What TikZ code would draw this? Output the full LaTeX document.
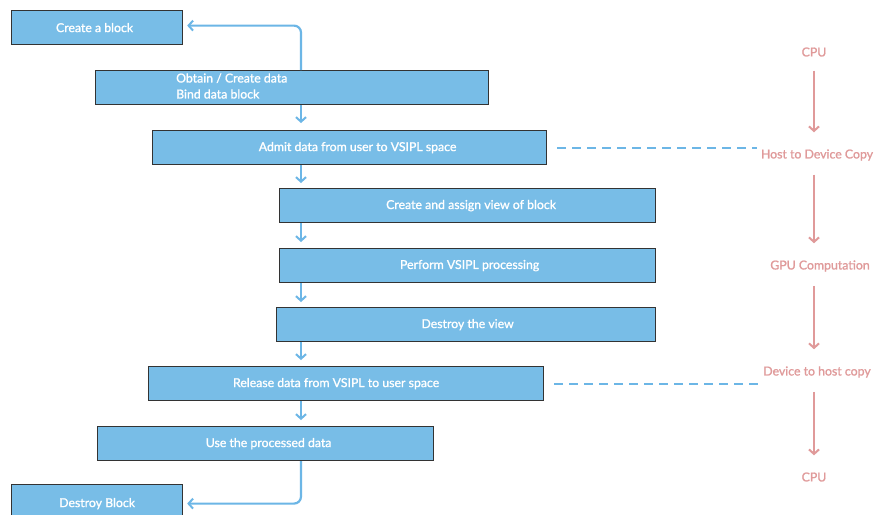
\documentclass[tikz,border=0pt]{standalone}
\usepackage{fontspec}
\setmainfont{Lato}[FakeBold=1.2]
\usetikzlibrary{arrows.meta,backgrounds}
\definecolor{boxblue}{HTML}{78BDE7}
\definecolor{lineblue}{HTML}{6CB6E6}
\definecolor{pinkc}{HTML}{E09A9A}
\definecolor{edgec}{HTML}{333333}
\tikzset{
  box/.style={draw=edgec, line width=1.2pt, fill=boxblue, text=white,
    font=\fontsize{12.3}{14}\selectfont, inner sep=0pt, anchor=north west},
  boxtext/.style={text=white, font=\fontsize{12.3}{16}\selectfont, inner sep=0pt, align=left},
  conn/.style={draw=lineblue, line width=2.2pt, -{Straight Barb[length=4.5pt,width=10pt,line width=2pt]}},
  dashline/.style={draw=lineblue, line width=2.2pt, dash pattern=on 9pt off 6pt},
  side/.style={text=pinkc, font=\fontsize{12.3}{14}\selectfont, inner sep=0pt},
  sidearrow/.style={draw=pinkc, line width=2.2pt, -{Straight Barb[length=4.5pt,width=10pt,line width=2pt]}, shorten <=14pt, shorten >=17pt},
}
\begin{document}
\begin{tikzpicture}[x=1pt,y=-1pt]
\clip (0,0) rectangle (883,514);
\fill[white] (0,0) rectangle (883,514);
\coordinate (cx) at (301,0);
\coordinate (lx) at (109,0);
\coordinate (ax) at (814,0);
% boxes
\node[box, minimum width=171pt, minimum height=34pt] (b1) at (11,10) {Create a block\hspace*{5pt}};
\node[box, minimum width=393pt, minimum height=34pt] (b2) at (95,70) {};
\node[boxtext, anchor=west] (b2t) at (176,86) {Obtain / Create data\\Bind data block};
\node[box, minimum width=394pt, minimum height=34pt] (b3) at (152,130) {\hspace*{16pt}Admit data from user to VSIPL space};
\node[box, minimum width=376pt, minimum height=34pt] (b4) at (279,188) {\hspace*{7pt}Create and assign view of block};
\node[box, minimum width=376pt, minimum height=34pt] (b5) at (279,248) {\hspace*{4pt}Perform VSIPL processing};
\node[box, minimum width=379pt, minimum height=34pt] (b6) at (276,307) {\hspace*{3pt}Destroy the view};
\node[box, minimum width=395pt, minimum height=34pt] (b7) at (148,366) {Release data from VSIPL to user space\hspace*{20pt}};
\node[box, minimum width=336pt, minimum height=34pt] (b8) at (97,426) {\hspace*{6pt}Use the processed data};
\node[box, minimum width=171pt, minimum height=38pt] (b9) at (11,484) {Destroy Block};
% flow arrows
\draw[conn, shorten >=7pt] (b2.south -| cx) -- (b3.north -| cx);
\draw[conn, shorten >=5pt] (b3.south -| cx) -- (b4.north -| cx);
\draw[conn, shorten >=6pt] (b4.south -| cx) -- (b5.north -| cx);
\draw[conn, shorten >=5pt] (b5.south -| cx) -- (b6.north -| cx);
\draw[conn, shorten >=6pt] (b6.south -| cx) -- (b7.north -| cx);
\draw[conn, shorten >=6pt] (b7.south -| cx) -- (b8.north -| cx);
\draw[conn, rounded corners=7pt, shorten >=4pt] (b2.north -| cx) |- ([yshift=2pt]b1.east);
\draw[conn, rounded corners=7pt, shorten >=4pt] (b8.south -| cx) |- (b9.east);
\begin{scope}[on background layer]
\draw[conn, shorten >=8pt] (b9.north -| lx) -- (b1.south -| lx);
\end{scope}
% right column
\node[side] (cpu1) at (814,52) {CPU};
\node[side] (h2d) at (817,155) {Host to Device Copy};
\node[side] (gpu) at (820,266) {GPU Computation};
\node[side] (d2h) at (817,372) {Device to host copy};
\node[side] (cpu2) at (814,477) {CPU};
\draw[sidearrow] (cpu1.south -| ax) -- (h2d.north -| ax);
\draw[sidearrow] (h2d.south -| ax) -- (gpu.north -| ax);
\draw[sidearrow] (gpu.south -| ax) -- (d2h.north -| ax);
\draw[sidearrow] (d2h.south -| ax) -- (cpu2.north -| ax);
% dashed links
\draw[dashline, shorten <=10pt] (b3.east) -- ([xshift=-4pt]b3.east -| h2d.west);
\draw[dashline, shorten <=10pt] (b7.east) -- ([xshift=-4pt]b7.east -| d2h.west);
\end{tikzpicture}
\end{document}
